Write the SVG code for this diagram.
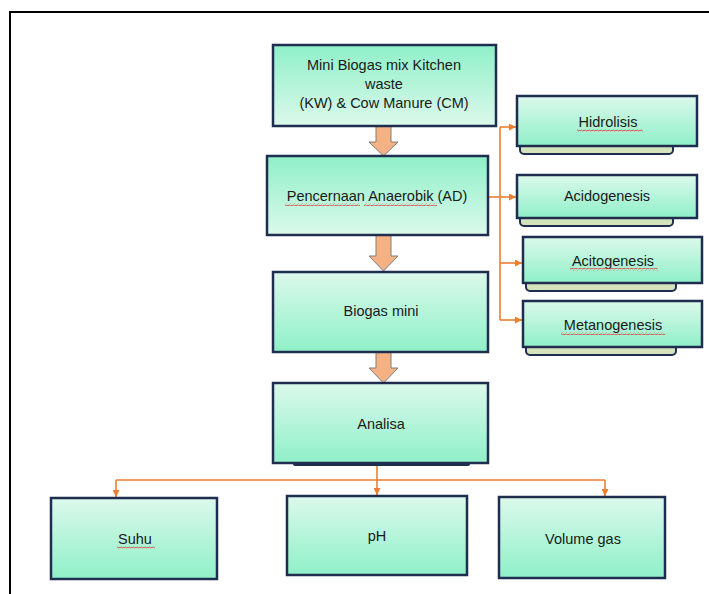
<svg xmlns="http://www.w3.org/2000/svg" width="709" height="594" viewBox="0 0 709 594">
<defs>
<linearGradient id="gDown" x1="0" y1="0" x2="0" y2="1"><stop offset="0" stop-color="#dcf9ec"/><stop offset="1" stop-color="#8ff0c8"/></linearGradient>
<linearGradient id="gUp" x1="0" y1="0" x2="0" y2="1"><stop offset="0" stop-color="#8ff0c8"/><stop offset="1" stop-color="#dcf9ec"/></linearGradient>
<pattern id="wave" width="4" height="3" patternUnits="userSpaceOnUse"><path d="M0,2.2 L1,0.8 L3,2.2 L4,0.8" fill="none" stroke="#e03c3c" stroke-width="0.8"/></pattern>
<marker id="ah" viewBox="0 0 10 10" refX="10" refY="5" markerWidth="7" markerHeight="7" markerUnits="userSpaceOnUse" orient="auto"><path d="M0,0 L10,5 L0,10 z" fill="#ed7d31"/></marker>
<style>
.box{stroke:#1f2d4e;stroke-width:2.5}
.down{fill:url(#gDown)}
.up{fill:url(#gUp)}
.tab{fill:#d5e3bd;stroke:#1f2d4e;stroke-width:2}
.t{font-family:"Liberation Sans",Arial,sans-serif;font-size:14.5px;fill:#1a1a1a;text-anchor:middle}
.c{fill:none;stroke:#ed7d31;stroke-width:1.6}
.ba{fill:#f4b183;stroke:#7f7f7f;stroke-width:1}
.sq{fill:url(#wave)}
</style>
</defs>
<rect width="709" height="594" fill="#fff"/>
<rect x="10" y="12" width="720" height="600" fill="none" stroke="#000" stroke-width="2"/>

<g id="connectors">
<path class="ba" d="M376,126 H391 V142 H398 L383.5,156 L369,142 H376 Z"/>
<path class="ba" d="M376,235 H391 V256 H398 L383.5,271 L369,256 H376 Z"/>
<path class="ba" d="M376,352 H391 V368 H398 L383.5,383 L369,368 H376 Z"/>
<path class="c" d="M488,197 H500"/>
<path class="c" d="M500,127 V320"/>
<path class="c" d="M500,127 H516" marker-end="url(#ah)"/>
<path class="c" d="M500,197 H516" marker-end="url(#ah)"/>
<path class="c" d="M500,263 H522" marker-end="url(#ah)"/>
<path class="c" d="M500,320 H522" marker-end="url(#ah)"/>
<path class="c" d="M377,464 V480"/>
<path class="c" d="M116,480 H605"/>
<path class="c" d="M116,480 V497" marker-end="url(#ah)"/>
<path class="c" d="M377,480 V495" marker-end="url(#ah)"/>
<path class="c" d="M605,480 V496" marker-end="url(#ah)"/>
</g>

<g id="mini-biogas">
<rect class="box up" x="273" y="45" width="223" height="81"/>
<text class="t" x="384" y="70">Mini Biogas mix Kitchen</text>
<text class="t" x="384" y="89">waste</text>
<text class="t" x="384" y="108">(KW) &amp; Cow Manure (CM)</text>
</g>

<g id="pencernaan">
<rect class="box up" x="267" y="156" width="221" height="79"/>
<text class="t" x="377" y="201">Pencernaan Anaerobik (AD)</text>
<rect class="sq" x="285" y="203" width="75" height="3"/>
<rect class="sq" x="364" y="203" width="73" height="3"/>
</g>

<g id="biogas-mini">
<rect class="box down" x="273" y="272" width="215" height="80"/>
<text class="t" x="381" y="316">Biogas mini</text>
</g>

<g id="analisa">
<rect x="293" y="461" width="177" height="5" rx="2" fill="#1f2d4e"/>
<rect class="box down" x="273" y="383" width="215" height="80"/>
<text class="t" x="381" y="429">Analisa</text>
</g>

<g id="hidrolisis">
<rect class="tab" x="520" y="140" width="153" height="14" rx="4"/>
<rect class="box down" x="517" y="96" width="180" height="50"/>
<text class="t" x="608" y="127">Hidrolisis</text>
<rect class="sq" x="577" y="129" width="66" height="3"/>
</g>

<g id="acidogenesis">
<rect class="tab" x="520" y="212" width="153" height="14" rx="4"/>
<rect class="box down" x="517" y="175" width="180" height="43"/>
<text class="t" x="607" y="201">Acidogenesis</text>
</g>

<g id="acitogenesis">
<rect class="tab" x="526" y="277" width="150" height="14" rx="4"/>
<rect class="box down" x="523" y="237" width="179" height="46"/>
<text class="t" x="613" y="266">Acitogenesis</text>
<rect class="sq" x="570" y="268" width="88" height="3"/>
</g>

<g id="metanogenesis">
<rect class="tab" x="526" y="341" width="150" height="14" rx="4"/>
<rect class="box down" x="523" y="301" width="179" height="46"/>
<text class="t" x="613" y="330">Metanogenesis</text>
<rect class="sq" x="561" y="332" width="104" height="3"/>
</g>

<g id="suhu">
<rect class="box down" x="51" y="498" width="166" height="81"/>
<text class="t" x="135" y="544">Suhu</text>
<rect class="sq" x="117" y="546" width="38" height="3"/>
</g>

<g id="ph">
<rect class="box down" x="287" y="496" width="180" height="79"/>
<text class="t" x="377" y="541">pH</text>
</g>

<g id="volume-gas">
<rect class="box down" x="499" y="497" width="166" height="81"/>
<text class="t" x="583" y="544">Volume gas</text>
</g>
</svg>
